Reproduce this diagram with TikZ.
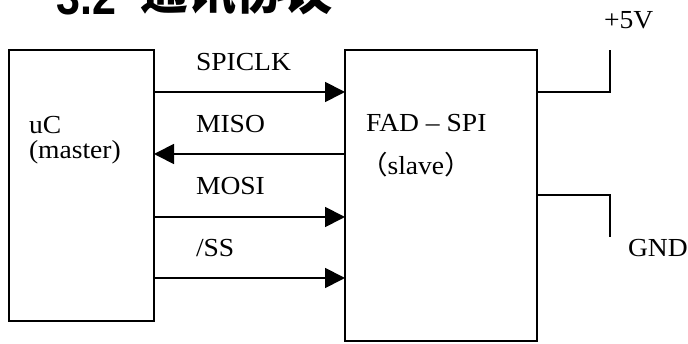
\documentclass[tikz,border=0pt]{standalone}
\usepackage{fontspec}
\setmainfont{Liberation Serif}[FakeStretch=1.06]
\newfontfamily\cjk{Noto Sans CJK SC}[FakeStretch=1.06]
\newfontfamily\titlecjk{Noto Sans CJK SC}[FakeStretch=0.96]
\newfontfamily\titlesans{Liberation Sans}[FakeStretch=0.86]
\usetikzlibrary{arrows.meta}
\tikzset{
  blockbox/.style={draw, line width=1.8pt, anchor=north west, inner sep=0pt, outer sep=0pt},
  lbl/.style={anchor=base west, inner sep=0pt, outer sep=0pt, font=\fontsize{26}{30}\selectfont},
  sig/.style={line width=1.8pt, -{Triangle[length=20pt,width=20pt]}},
  wire/.style={line width=1.8pt}
}
\begin{document}
\begin{tikzpicture}[x=1pt,y=-1pt]
\useasboundingbox (0,0) rectangle (688,344);
\clip (0,0) rectangle (688,344);
% title (cut off at top)
\node[anchor=base west, inner sep=0pt] (title) at (56,15)
  {\fontsize{50}{54}\selectfont\titlesans\bfseries 3.2};
\node[anchor=base west, inner sep=0pt] (titlecn) at (140,10)
  {\fontsize{50}{54}\selectfont\titlecjk\bfseries 通讯协议};
% blocks
\node[blockbox, minimum width=145pt, minimum height=271pt] (uc) at (9,50) {};
\node[blockbox, minimum width=192pt, minimum height=291pt] (fad) at (345,50) {};
% rows
\coordinate (r1) at (0,92);
\coordinate (r2) at (0,154);
\coordinate (r3) at (0,217);
\coordinate (r4) at (0,278);
\coordinate (r5) at (0,195);
\draw[sig] (uc.east |- r1) -- (fad.west |- r1);
\draw[sig] (fad.west |- r2) -- (uc.east |- r2);
\draw[sig] (uc.east |- r3) -- (fad.west |- r3);
\draw[sig] (uc.east |- r4) -- (fad.west |- r4);
% power
\coordinate (vcc) at (610,50);
\coordinate (gnd) at (610,237);
\draw[wire] (fad.east |- r1) -| (vcc);
\draw[wire] (fad.east |- r5) -| (gnd);
% labels
\node[lbl] (lspiclk) at (196,70.5) {SPICLK};
\node[lbl] (lmiso) at (196,133) {MISO};
\node[lbl] (lmosi) at (196,195) {MOSI};
\node[lbl] (lss) at (196,257) {/SS};
\node[lbl] (luc) at (29,134) {uC};
\node[lbl] (lmaster) at (29,159) {(master)};
\node[lbl] (lfad) at (366,132) {FAD -- SPI};
\node[lbl] (lslave) at (360,175) {{\cjk （}slave{\cjk ）}};
\node[lbl] (l5v) at (604,29) {+5V};
\node[lbl] (lgnd) at (628,257) {GND};
\end{tikzpicture}
\end{document}
